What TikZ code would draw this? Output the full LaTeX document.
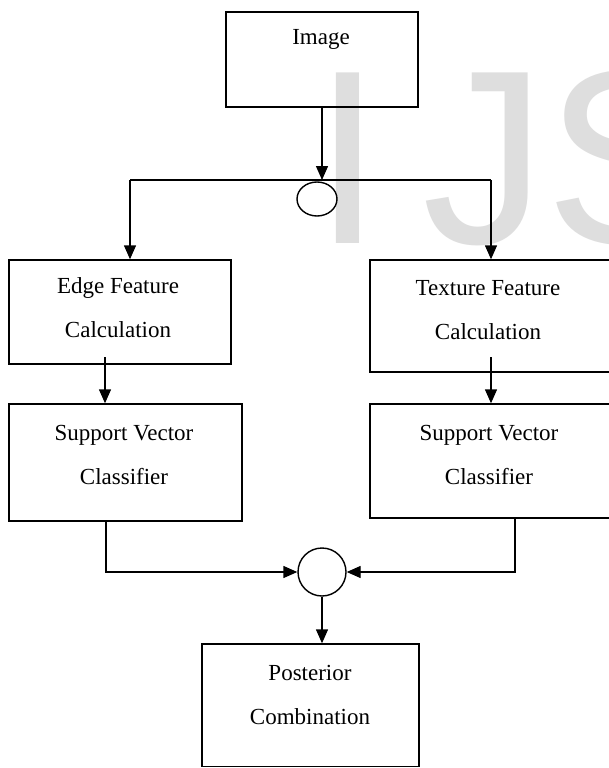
\documentclass[tikz,border=0pt]{standalone}
\usepackage{fontspec}
\setmainfont{Liberation Serif}
\newfontfamily\wmfont{Liberation Sans}
\usetikzlibrary{arrows.meta,calc,shapes.geometric}
\begin{document}
\begin{tikzpicture}[x=1pt,y=-1pt,
  box/.style={draw=black, line width=1.4pt, rectangle, inner sep=0pt},
  lbl/.style={align=center, font=\fontsize{23}{44}\selectfont, inner sep=0pt},
  conn/.style={line width=1.4pt, draw=black},
  arr/.style={conn, -{Triangle[length=14pt,width=12pt]}},
  wm/.style={text=black!13, font=\wmfont\fontsize{248}{248}\selectfont, inner sep=0pt, anchor=base west, text depth=0pt}
]
\useasboundingbox (0,0) rectangle (608,768);
\fill[white] (0,0) rectangle (608,768);
% watermark
\node[wm] (wI) at (313,243) {I};
\node[wm] (wJ) at (422,243) {J};
\node[wm] (wS) at (545,243) {S};

% boxes
\node[box, minimum width=192pt, minimum height=95pt] (img) at (322,59.5) {};
\node[box, minimum width=222pt, minimum height=104pt] (edge) at (120,312) {};
\node[box, minimum width=233pt, minimum height=117pt] (svcL) at (125.5,462.5) {};
\node[box, minimum width=240pt, minimum height=112pt] (tex) at (490,316) {};
\node[box, minimum width=240pt, minimum height=114pt] (svcR) at (490,461) {};
\node[box, minimum width=217pt, minimum height=122.5pt] (post) at (310.5,705.25) {};

% labels
\node[lbl] (imgT) at (321,39) {Image};
\node[lbl] (edgeT) at (118,308) {Edge Feature\\Calculation};
\node[lbl] (svcLT) at (124,455) {Support Vector\\Classifier};
\node[lbl] (texT) at (488,310) {Texture Feature\\Calculation};
\node[lbl] (svcRT) at (489,455) {Support Vector\\Classifier};
\node[lbl] (postT) at (310,694.5) {Posterior\\Combination};

% junctions
\node[draw=black, line width=1.4pt, ellipse, minimum width=40pt, minimum height=34pt, inner sep=0pt] (fork) at (317,199) {};
\node[draw=black, line width=1.4pt, circle, minimum size=48pt, inner sep=0pt] (comb) at (322,572) {};

% connectors
\coordinate (split) at (322,180);
\coordinate (lc) at (130,180);
\coordinate (rc) at (491,180);
\draw[arr] (img.south) -- (split);
\draw[conn] (lc) -- (rc);
\draw[arr] (lc) -- (lc |- edge.north);
\draw[arr] (rc) -- (rc |- tex.north);

\coordinate (ea) at (105,357);
\coordinate (ta) at (491,357);
\draw[arr] (ea) -- (ea |- svcL.north);
\draw[arr] (ta) -- (ta |- svcR.north);

\draw[arr] ([xshift=-19.5pt]svcL.south) |- (comb.west);
\draw[arr] ([xshift=25pt]svcR.south) |- (comb.east);
\draw[arr] (comb.south) -- (comb.south |- post.north);
\end{tikzpicture}
\end{document}
